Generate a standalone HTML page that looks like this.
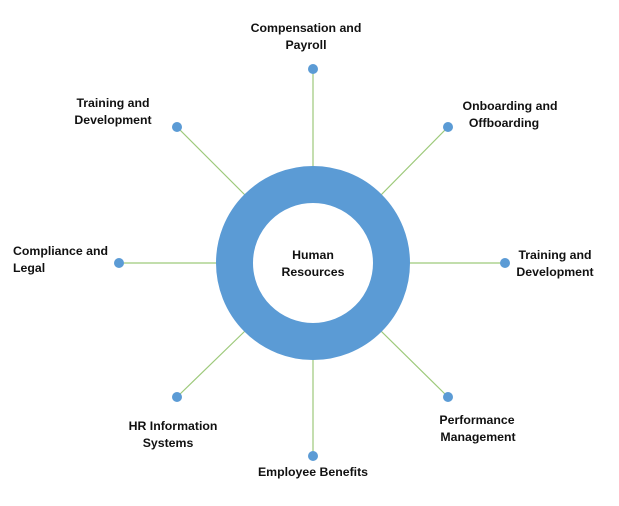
<!DOCTYPE html>
<html><head><style>
html,body{margin:0;padding:0;background:#fff;}
svg text{font-family:"Liberation Sans",Arial,sans-serif;font-weight:bold;font-size:12.3px;fill:#111;}
</style></head><body>
<svg width="619" height="501" viewBox="0 0 619 501" xmlns="http://www.w3.org/2000/svg">
<g stroke="#9DC97A" stroke-width="1.2">
<line x1="313" y1="69" x2="313" y2="167"/>
<line x1="313" y1="359" x2="313" y2="456"/>
<line x1="119" y1="263" x2="217" y2="263"/>
<line x1="409" y1="263" x2="505" y2="263"/>
<line x1="177" y1="127" x2="245" y2="195"/>
<line x1="448" y1="127" x2="381" y2="195"/>
<line x1="177" y1="397" x2="245" y2="331"/>
<line x1="448" y1="397" x2="381" y2="331"/>
</g>
<circle cx="313" cy="263" r="78.5" fill="none" stroke="#5B9BD5" stroke-width="37"/>
<g fill="#5B9BD5">
<circle cx="313" cy="69" r="5"/><circle cx="177" cy="127" r="5"/>
<circle cx="448" cy="127" r="5"/><circle cx="119" cy="263" r="5"/>
<circle cx="505" cy="263" r="5"/><circle cx="177" cy="397" r="5"/>
<circle cx="448" cy="397" r="5"/><circle cx="313" cy="456" r="5"/>
</g>
<text x="313" y="259" text-anchor="middle">Human</text>
<text x="313" y="276" text-anchor="middle">Resources</text>
<text x="306" y="32" text-anchor="middle">Compensation and</text>
<text x="306" y="49" text-anchor="middle">Payroll</text>
<text x="113" y="107" text-anchor="middle">Training and</text>
<text x="113" y="124" text-anchor="middle">Development</text>
<text x="510" y="110" text-anchor="middle">Onboarding and</text>
<text x="504" y="127" text-anchor="middle">Offboarding</text>
<text x="13" y="255">Compliance and</text>
<text x="13" y="272">Legal</text>
<text x="555" y="259" text-anchor="middle">Training and</text>
<text x="555" y="276" text-anchor="middle">Development</text>
<text x="173" y="430" text-anchor="middle">HR Information</text>
<text x="168" y="447" text-anchor="middle">Systems</text>
<text x="477" y="424" text-anchor="middle">Performance</text>
<text x="478" y="441" text-anchor="middle">Management</text>
<text x="313" y="476" text-anchor="middle">Employee Benefits</text>
</svg>
</body></html>
